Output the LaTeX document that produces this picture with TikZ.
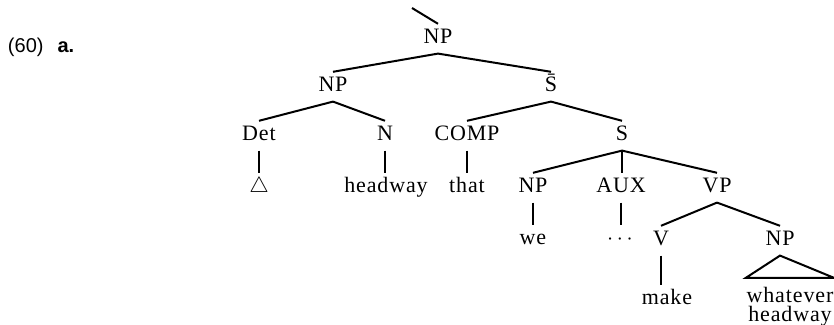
\documentclass[tikz,border=0pt]{standalone}
\usepackage{fontspec}
\setmainfont[LetterSpace=4]{Liberation Serif}
\newfontfamily\exfont{Liberation Sans}

\tikzset{cat/.style={anchor=base,inner xsep=1pt,inner ysep=2.3pt,text height=7.3pt,text depth=2pt,
  font=\fontsize{11pt}{12pt}\selectfont}}

\begin{document}
\begin{tikzpicture}[x=.5pt,y=-.5pt,line width=1pt]
\useasboundingbox (0,0) rectangle (834,325);
\node[anchor=base west,inner sep=0pt,font=\exfont\fontsize{10pt}{12pt}\selectfont] (ex) at (7,53) {(60)\hspace{7pt}\textbf{a.}};
\coordinate (up) at (412,8);
\node[cat] (np0) at (438,44) {NP};
\node[cat] (np1) at (333,92) {NP};
\node[cat] (sbar) at (551,92) {\={S}};
\node[cat] (det) at (259,141) {Det};
\node[cat] (n) at (385,141) {N};
\node[cat] (comp) at (467,141) {COMP};
\node[cat] (s) at (622,141) {S};
\node[cat] (tri) at (259,193) {$\triangle$};
\node[cat] (hw) at (386,193) {headway};
\node[cat] (that) at (467,193) {that};
\node[cat] (np2) at (533,193) {NP};
\node[cat] (aux) at (621,193) {AUX};
\node[cat] (vp) at (717,193) {VP};
\node[cat] (we) at (533,245) {we};
\node[cat] (dots) at (620,245) {$\cdots$};
\node[cat] (v) at (661,246) {V};
\node[cat] (np3) at (780,246) {NP};
\node[cat] (make) at (667,305) {make};
\node[anchor=north,inner xsep=0pt,inner ysep=4pt,align=center,
  font=\fontsize{11pt}{12pt}\selectfont] (wh) at (790,278) {whatever\\[-2.5pt]headway};
\draw (up) -- (np0.north);
\foreach \a/\b in {np0/np1,np0/sbar,np1/det,np1/n,sbar/comp,sbar/s,s/np2,s/vp,vp/v,vp/np3}
\draw (\a.south) -- (\b.north);
% unary branches stay vertical
\foreach \a/\b in {s/aux,det/tri,n/hw,comp/that,np2/we,aux/dots,v/make}
\draw (\a.south) -- (\a.south |- \b.north);
\draw (np3.south) -- (wh.north east) -- (wh.north west) -- cycle;
\end{tikzpicture}
\end{document}
